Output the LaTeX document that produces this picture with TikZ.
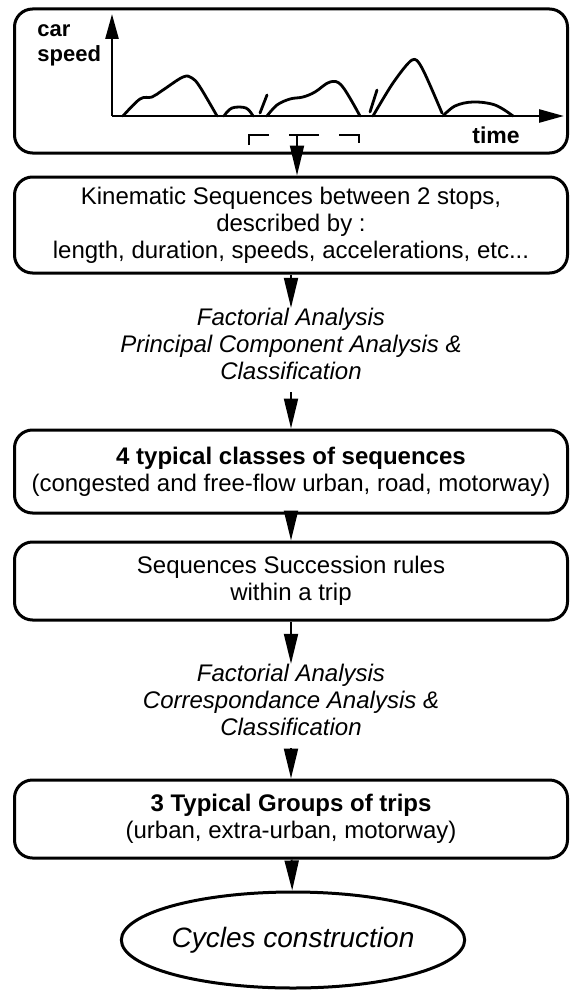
\documentclass[tikz,border=0pt]{standalone}
\usepackage{fontspec}
\setmainfont{Liberation Sans}
\usetikzlibrary{arrows.meta,shapes.geometric}

\begin{document}
\begin{tikzpicture}[x=0.5pt,y=-0.5pt,
		box/.style={draw,line width=1.5pt,rounded corners=9pt,minimum width=276.5pt,inner sep=0pt,align=center,font=\fontsize{12}{13.5}\selectfont},
		note/.style={align=center,inner sep=0pt,font=\fontsize{12}{13.5}\selectfont\itshape},
		wedge/.style={line width=1pt,-{Triangle[length=15pt,width=7pt]}},
		axis/.style={line width=1.3pt,-{Triangle[length=12.5pt,width=6.5pt]}},
		speed/.style={line width=1.4pt,line join=round,line cap=round}]
		\useasboundingbox (0,0) rectangle (570,990);
		\node[box,minimum height=72pt] (graph) at (291,81) {};
		\node[box,minimum height=48pt] (kine) at (291,225) {Kinematic Sequences between 2 stops,\\described by :\\length, duration, speeds, accelerations, etc...};
		\node[note] (pca) at (291,344) {Factorial Analysis\\Principal Component Analysis \&\\Classification};
		\node[box,minimum height=41.5pt] (classes) at (291,471.5) {\textbf{4 typical classes of sequences}\\(congested and free-flow urban, road, motorway)};
		\node[box,minimum height=39pt] (rules) at (291,581) {Sequences Succession rules\\within a trip};
		\node[note] (afc) at (291,700) {Factorial Analysis\\Correspondance Analysis \&\\Classification};
		\node[box,minimum height=39pt] (groups) at (291,819) {\textbf{3 Typical Groups of trips}\\(urban, extra-urban, motorway)};
		\node[ellipse,draw,line width=1.5pt,minimum width=161pt,minimum height=48pt,inner sep=0pt,font=\fontsize{14}{16}\selectfont\itshape] (cycles) at (293,940) {Cycles construction};
		\coordinate (o) at (112,116);
		\draw[axis] (o) -- (112,14);
		\draw[axis] (o) -- (564,116);
		\node[align=left,anchor=west,inner sep=0pt,font=\fontsize{11}{12.5}\selectfont\bfseries] (ylabel) at (37,45) {car\\speed};
		\node[inner sep=0pt,font=\fontsize{11.5}{13.5}\selectfont\bfseries] (xlabel) at (496,135) {time};
		\draw[speed] plot[smooth,tension=0.6] coordinates {(123,116) (140,99) (152,97) (163,90) (183,77) (192,78) (200,87) (217,116)};
		\draw[speed] plot[smooth,tension=0.6] coordinates {(224,116) (232,108) (246,108) (253,116)};
		\draw[speed] plot[smooth,tension=0.6] coordinates {(267,116) (277,105) (290,99) (303,97) (315,92) (330,82) (342,86) (360,116)};
		\draw[speed] plot[smooth,tension=0.5] coordinates {(373,116) (393,83) (412,60) (422,68) (442,113)};
		\draw[speed] plot[smooth,tension=0.6] coordinates {(443,116) (455,106) (473,102) (495,105) (513,116)};
		\draw[speed] (260,113) -- (267,95);
		\draw[speed] (370,112) -- (377,90);
		\draw[line width=1.3pt,dash pattern=on 15pt off 10pt] (249,145) -- (249,135) -- (359,135) -- (359,143);
		\coordinate (cut) at (297,135);
		\draw[wedge] (cut) -- (cut |- kine.north);
		\draw[wedge] (kine) -- (pca);
		\draw[wedge,shorten <=6pt] (pca) -- (classes);
		\draw[wedge] (classes) -- (rules);
		\draw[wedge] (rules) -- (afc);
		\draw[wedge,shorten <=6pt] (afc) -- (groups);
		\draw[wedge] (groups) -- (cycles);
\end{tikzpicture}
\end{document}
